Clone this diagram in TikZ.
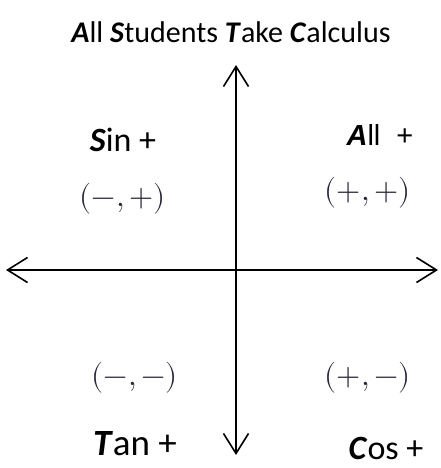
\documentclass[tikz,border=0pt]{standalone}
\usepackage{fontspec}
\usepackage{unicode-math}
\setmainfont{Carlito}
\newfontfamily\arialf{Liberation Sans}
\usetikzlibrary{arrows.meta}
\definecolor{coordcol}{HTML}{26263A}
\begin{document}
\begin{tikzpicture}[x=1pt,y=-1pt,
  axis/.style={line width=1.6pt,{Straight Barb[length=20pt,width=25pt,line width=1.6pt]}-{Straight Barb[length=20pt,width=25pt,line width=1.6pt]}},
  qlabel/.style={font=\fontsize{34}{38}\selectfont,inner sep=0pt,text=black},
  coordl/.style={font=\fontsize{31}{34}\selectfont,inner sep=0pt,text=coordcol}]
\useasboundingbox (0,0) rectangle (441,468);
\node[font=\fontsize{30}{34}\selectfont,inner sep=0pt] (title) at (231,32) {\textbf{\textit{A}}ll \textbf{\textit{S}}tudents \textbf{\textit{T}}ake \textbf{\textit{C}}alculus};
\coordinate (top) at (236,65);
\coordinate (bot) at (236,455);
\coordinate (lft) at (6,270);
\coordinate (rgt) at (438,270);
\draw[axis] (lft) -- (rgt);
\draw[axis] (bot) -- (top);
\node[qlabel] (sin) at (123,140) {\textbf{\textit{S}}in +};
\node[qlabel,font=\arialf\fontsize{29}{32}\selectfont] (all) at (380,135) {\textbf{\textit{A}}ll\ \ +};
\node[qlabel,font=\fontsize{37}{40}\selectfont] (tan) at (135,444) {\textbf{\textit{T}}an +};
\node[qlabel] (cos) at (386,448) {\textbf{\textit{C}}os +};
\node[coordl] (q2) at (123,199) {$(-,+)$};
\node[coordl] (q1) at (368,193) {$(+,+)$};
\node[coordl] (q3) at (135,378) {$(-,-)$};
\node[coordl] (q4) at (368,378) {$(+,-)$};
\end{tikzpicture}
\end{document}
